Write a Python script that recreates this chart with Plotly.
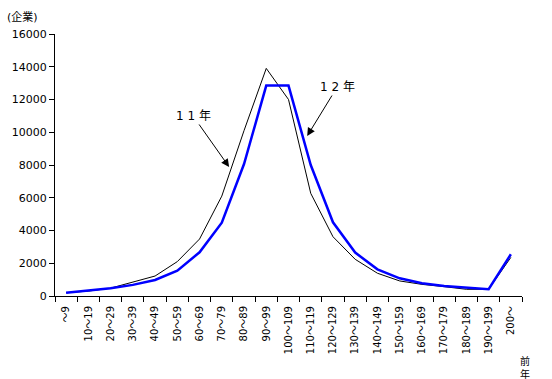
import plotly.graph_objects as go

categories = ["～9", "10～19", "20～29", "30～39", "40～49", "50～59", "60～69", "70～79",
              "80～89", "90～99", "100～109", "110～119", "120～129", "130～139", "140～149",
              "150～159", "160～169", "170～179", "180～189", "190～199", "200～"]
y11 = [200, 300, 480, 850, 1220, 2100, 3480, 6100, 10100, 13900, 12000, 6270, 3620,
       2240, 1390, 920, 710, 570, 410, 410, 2360]
y12 = [200, 320, 470, 680, 980, 1550, 2670, 4480, 8060, 12850, 12850, 8000, 4500,
       2650, 1630, 1080, 775, 610, 490, 410, 2550]

font = "DejaVu Sans, Noto Sans CJK JP, sans-serif"

fig = go.Figure()
fig.add_trace(go.Scatter(x=categories, y=y11, mode="lines", name="11年",
                         line=dict(color="black", width=1)))
fig.add_trace(go.Scatter(x=categories, y=y12, mode="lines", name="12年",
                         line=dict(color="#0000FF", width=2.5)))

fig.update_layout(
    width=552, height=379,
    margin=dict(l=55, r=30, t=34, b=83, autoexpand=False),
    paper_bgcolor="white", plot_bgcolor="white",
    showlegend=False,
    font=dict(family=font, size=11, color="black"),
)
fig.update_xaxes(
    type="category", range=[-0.5, len(categories) - 0.5],
    tickangle=-90, tickson="boundaries", ticklabelstandoff=5,
    ticks="outside", ticklen=5, tickcolor="black",
    showline=True, linecolor="black", linewidth=1,
    showgrid=False, zeroline=False, automargin=False,
    tickfont=dict(size=10, family=font),
)
fig.update_yaxes(
    range=[0, 16000], dtick=2000, tickformat="d",
    ticks="outside", ticklen=5, tickcolor="black",
    showline=True, linecolor="black", linewidth=1,
    showgrid=False, zeroline=False, automargin=False,
    tickfont=dict(size=11, family=font),
)

fig.add_annotation(x=7.33, y=7880, xref="x", yref="y", text="1 1 年",
                   showarrow=True, arrowhead=2, arrowsize=1.6, arrowwidth=1,
                   arrowcolor="black", ax=-36, ay=-51,
                   font=dict(size=12, family=font))
fig.add_annotation(x=10.84, y=9770, xref="x", yref="y", text="1 2 年",
                   showarrow=True, arrowhead=2, arrowsize=1.6, arrowwidth=1,
                   arrowcolor="black", ax=30, ay=-49,
                   font=dict(size=12, family=font))
fig.add_annotation(x=-0.107, y=1.065, xref="paper", yref="paper", text="(企業)",
                   showarrow=False, xanchor="left", yanchor="middle",
                   font=dict(size=11, family=font))
fig.add_annotation(x=1.006, y=-0.274, xref="paper", yref="paper", text="前<br>年",
                   showarrow=False, xanchor="center", yanchor="middle",
                   font=dict(size=10, family=font))

fig.write_html("out.html", config={"displayModeBar": False},
               post_script="document.body.style.margin='0';document.body.style.overflow='hidden';")
